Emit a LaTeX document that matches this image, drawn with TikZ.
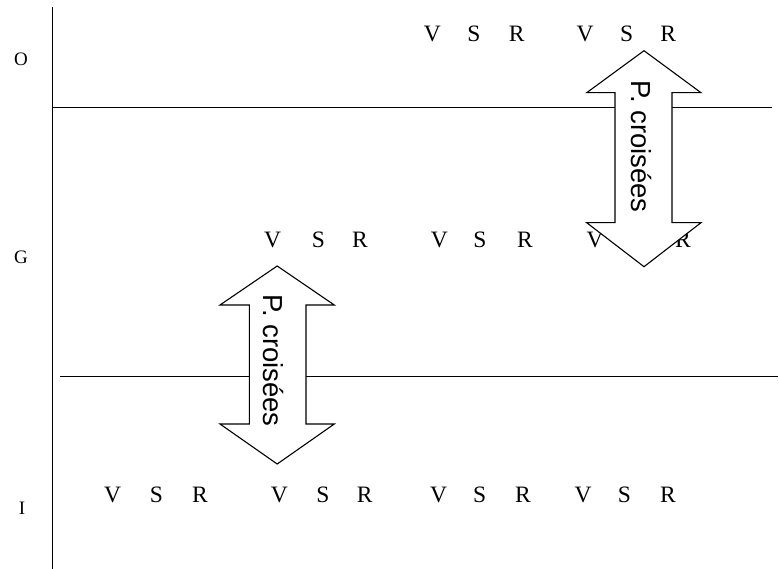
\documentclass[tikz,border=0pt]{standalone}
\usepackage{fontspec}
\setmainfont{Liberation Serif}
\newfontfamily\arrowfont{Liberation Sans}
\begin{document}
\begin{tikzpicture}[x=1pt,y=-1pt,
  axisline/.style={line width=1.4pt},
  vsr/.style={inner sep=0pt,anchor=base,font=\fontsize{23.5}{23.5}\selectfont},
  layerlabel/.style={inner sep=0pt,anchor=base,font=\fontsize{19}{19}\selectfont},
  bigarrow/.style={draw,fill=white,line width=1.1pt,line join=miter},
  arrowtext/.style={inner sep=0pt,anchor=base west,rotate=-90,font=\arrowfont\fontsize{27.5}{27.5}\selectfont}]
\useasboundingbox (0,0) rectangle (779,569);
% layer labels
\node[layerlabel] (lO) at (21,66) {O};
\node[layerlabel] (lG) at (21,264) {G};
\node[layerlabel] (lI) at (22,514) {I};
% lines
\coordinate (vtop) at (52.7,7.3);
\coordinate (vbot) at (52.7,569);
\draw[axisline] (vtop) -- (vbot);
\coordinate (h1a) at (52.7,107.3);
\coordinate (h1b) at (772,107.3);
\draw[axisline] (h1a) -- (h1b);
\coordinate (h2a) at (60,376.5);
\coordinate (h2b) at (778,376.5);
\draw[axisline] (h2a) -- (h2b);
% top row
\node[vsr] (t1) at (432.3,41.2) {V};
\node[vsr] (t2) at (474,41.2) {S};
\node[vsr] (t3) at (516.7,41.2) {R};
\node[vsr] (t4) at (585,41.2) {V};
\node[vsr] (t5) at (626.7,41.2) {S};
\node[vsr] (t6) at (668.3,41.2) {R};
% middle row
\node[vsr] (m1) at (272.7,247.2) {V};
\node[vsr] (m2) at (318.3,247.2) {S};
\node[vsr] (m3) at (360,247.2) {R};
\node[vsr] (m4) at (439.3,247.2) {V};
\node[vsr] (m5) at (480,247.2) {S};
\node[vsr] (m6) at (525,247.2) {R};
\node[vsr] (m7) at (595,247.2) {V};
\node[vsr] (m8) at (639,247.2) {S};
\node[vsr] (m9) at (683,247.2) {R};
% bottom row
\node[vsr] (b1) at (112.7,502.2) {V};
\node[vsr] (b2) at (156.5,502.2) {S};
\node[vsr] (b3) at (200,502.2) {R};
\node[vsr] (b4) at (279.3,502.2) {V};
\node[vsr] (b5) at (323,502.2) {S};
\node[vsr] (b6) at (364.6,502.2) {R};
\node[vsr] (b7) at (438.5,502.2) {V};
\node[vsr] (b8) at (479.6,502.2) {S};
\node[vsr] (b9) at (523,502.2) {R};
\node[vsr] (b10) at (583,502.2) {V};
\node[vsr] (b11) at (624.4,502.2) {S};
\node[vsr] (b12) at (668,502.2) {R};
% double arrow 1
\draw[bigarrow] (644,50.7) -- (701,92.7) -- (672,92.7) -- (672,222.7) -- (701,222.7)
  -- (644,266.7) -- (586.7,222.7) -- (615,222.7) -- (615,92.7) -- (586.7,92.7) -- cycle;
\node[arrowtext] (a1) at (631,80) {P. croisées};
% double arrow 2
\draw[bigarrow] (277.2,266) -- (334.3,305) -- (306,305) -- (306,424) -- (334.3,424)
  -- (277.2,464) -- (220,424) -- (249.3,424) -- (249.3,305) -- (220,305) -- cycle;
\node[arrowtext] (a2) at (263.5,294) {P. croisées};
\end{tikzpicture}
\end{document}
